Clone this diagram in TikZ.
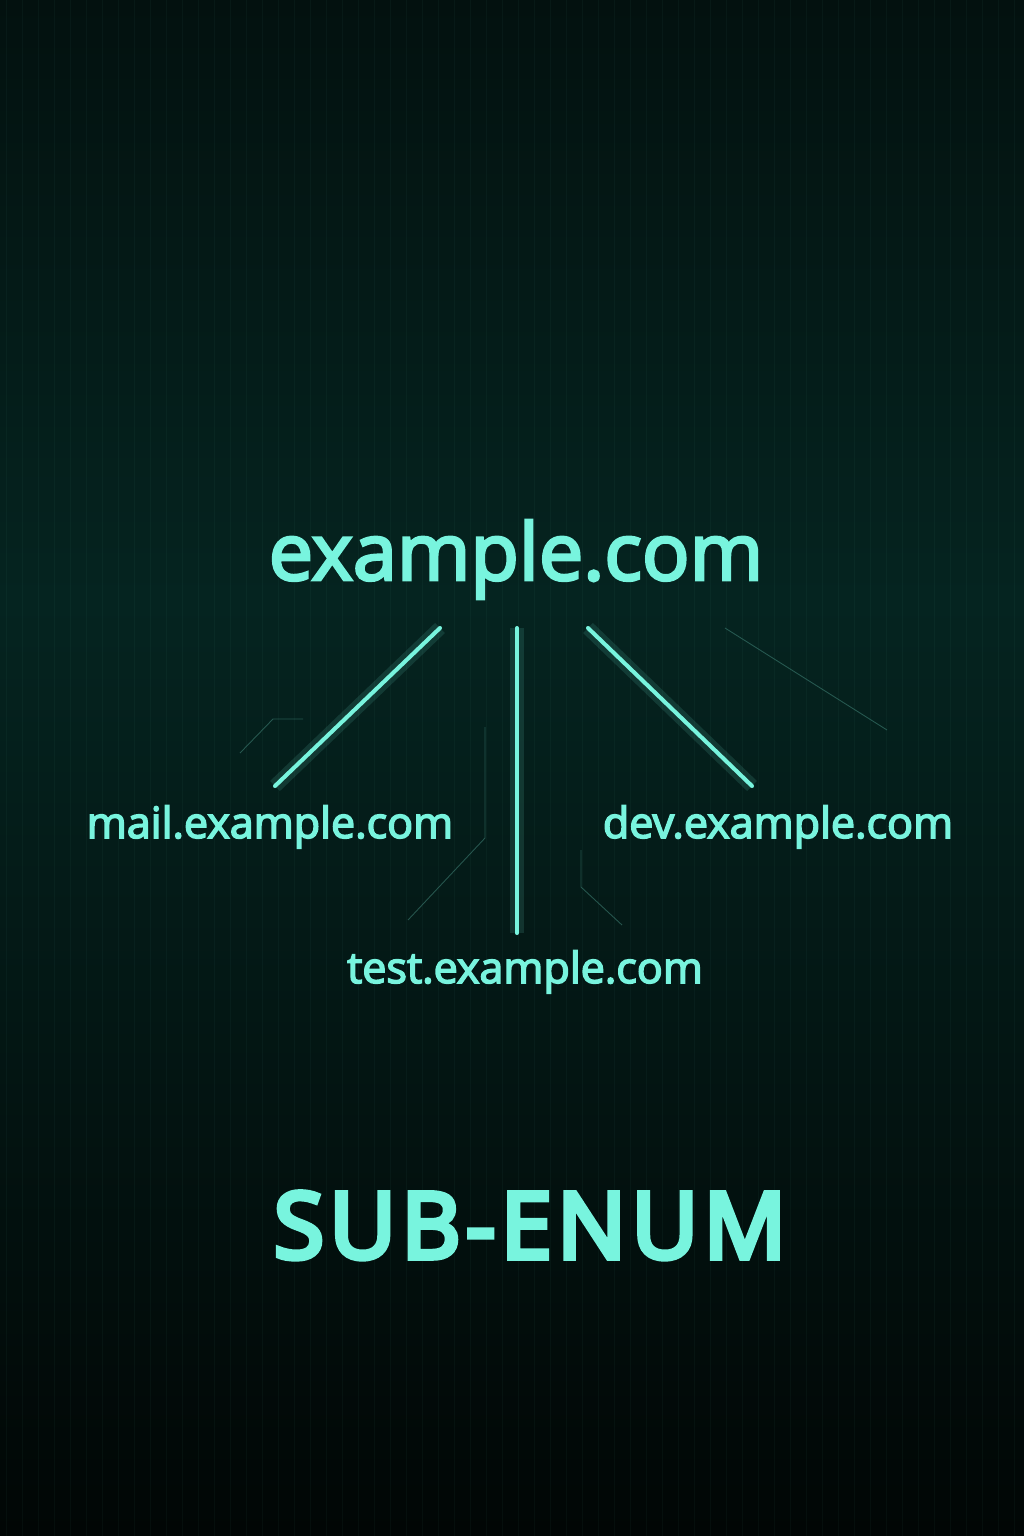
\documentclass[tikz,border=0pt]{standalone}
\usepackage{fontspec}
\setmainfont{Open Sans}
\newfontfamily\hostfont{Open Sans}[FakeBold=3.5]
\newfontfamily\titlefont{Open Sans}[FakeBold=6, LetterSpace=6]
\usepackage{tikz}
\usetikzlibrary{calc}
\definecolor{neon}{HTML}{78F4DE}
\definecolor{bgtop}{HTML}{03110F}
\definecolor{bgmid}{HTML}{052420}
\definecolor{bgbot}{HTML}{010605}
\tikzstyle{host}=[text=neon, inner sep=0pt, anchor=base]
\tikzstyle{link}=[draw=neon, line width=2.3pt, line cap=round,
  preaction={draw=neon, line width=8pt, opacity=0.12}]

\begin{document}
\begin{tikzpicture}[x=0.02cm, y=-0.02cm,
  trace/.style={draw=neon!55!black, line width=0.5pt, opacity=0.55},
  stripe/.style={draw=neon, line width=0.4pt, opacity=0.035}]
% background
\useasboundingbox (0,0) rectangle (1024,1536);
\shade[top color=bgtop, bottom color=bgmid] (0,0) rectangle (1024,600);
\shade[top color=bgmid, bottom color=bgbot] (0,600) rectangle (1024,1536);
\foreach \x in {6,22,...,1024}
  \draw[stripe] (\x,0) -- (\x,1536);
% faint circuit traces
\draw[trace] (240,753) -- (273,719) -- (303,719);
\draw[trace] (485,727) -- (485,838) -- (408,920);
\draw[trace] (725,628) -- (887,730);
\draw[trace] (581,850) -- (581,887) -- (622,925);
% tree
\node[host, font=\hostfont\fontsize{45}{50}\selectfont] (root) at (516,580) {example.com};
\node[host, font=\hostfont\fontsize{24.5}{28}\selectfont] (mail) at (270,838) {mail.example.com};
\node[host, font=\hostfont\fontsize{24.5}{28}\selectfont] (dev)  at (778,838) {dev.example.com};
\node[host, font=\hostfont\fontsize{24.5}{28}\selectfont] (test) at (525,983) {test.example.com};
\draw[link] ($(root.base)+(-76,48)$) -- ($(mail.base)+(5,-52)$);
\draw[link] ($(root.base)+(1,48)$) -- ($(test.base)+(-8,-50)$);
\draw[link] ($(root.base)+(72,48)$) -- ($(dev.base)+(-26,-52)$);
% title
\node[host, font=\titlefont\fontsize{52}{58}\selectfont] (title) at (530,1258) {SUB-ENUM};
\end{tikzpicture}
\end{document}
